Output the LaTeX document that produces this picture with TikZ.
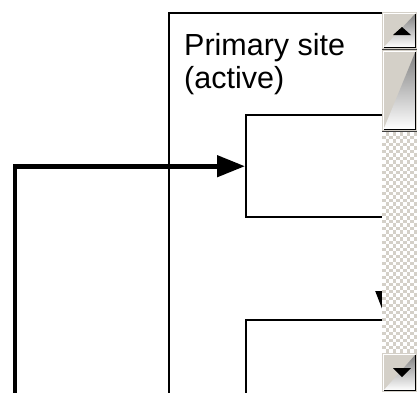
\documentclass[tikz,border=0pt]{standalone}
\usepackage{fontspec}
\setmainfont{Liberation Sans}
\usetikzlibrary{arrows.meta}
\definecolor{face}{HTML}{D4D0C8}
\definecolor{shade}{HTML}{808080}
\definecolor{darkedge}{HTML}{404040}
\begin{document}
\begin{tikzpicture}[x=1pt,y=-1pt,
  boxline/.style={draw=black, line width=2.4pt, rectangle, inner sep=0pt, anchor=north west},
  flow/.style={draw=black, line width=4.6pt, -{Triangle[length=28pt,width=21pt]}},
  flowthin/.style={draw=black, line width=2.4pt, -{Triangle[length=28pt,width=21pt]}},
  sitelabel/.style={anchor=north west, inner sep=0pt, align=left, font=\fontsize{30.5}{33}\selectfont},
  btnface/.style={fill=face},
  glyph/.style={fill=black}]
\useasboundingbox (0,0) rectangle (417,392);
\clip (0,0) rectangle (417,392);
\fill[white] (0,0) rectangle (417,392);
% diagram
\node[boxline, minimum width=320pt, minimum height=420pt] (site) at (168,12) {};
\node[sitelabel] (title) at (184,33) {Primary site\\(active)};
\node[boxline, minimum width=250pt, minimum height=102pt] (boxa) at (245,114) {};
\node[boxline, minimum width=250pt, minimum height=120pt] (boxb) at (245,319) {};
\coordinate (src) at (15,400);
\draw[flow] (src) |- (boxa.west);
\coordinate (ax) at (386,0);
\draw[flowthin] (boxa.south -| ax) -- (boxb.north -| ax);
% scrollbar
\fill[face] (382,12) rectangle (417,392);
% track checkers
\fill[face] (382,132) rectangle (417,353);
\foreach \i [evaluate=\i as \off using {mod(\i,2)*3.5}] in {0,...,62} {
  \foreach \j in {0,7,...,35} {
    \fill[white] (382+\j+\off,132+\i*3.5) rectangle ++(3.5,3.5);
  }
}
% up button
\fill[btnface] (382,12) rectangle (417,49);
\draw[white, line width=1pt] (383.5,48) -- (383.5,13.5) -- (416,13.5);
\draw[shade, line width=1pt] (383.5,47.5) -- (415.5,47.5) -- (415.5,13.5);
\draw[darkedge, line width=1pt] (382,49) -- (417,49);
\fill[glyph] (393,35) -- (402,27) -- (411,35) -- cycle;
% thumb
\fill[btnface] (382,50) rectangle (417,131);
\draw[white, line width=1pt] (383.5,130) -- (383.5,51.5) -- (416,51.5);
\draw[shade, line width=1pt] (383.5,129.5) -- (415.5,129.5) -- (415.5,51.5);
\draw[darkedge, line width=1pt] (382,131) -- (417,131);
% down button
\fill[btnface] (382,353) rectangle (417,392);
\draw[white, line width=1pt] (383.5,391) -- (383.5,354.5) -- (416,354.5);
\draw[shade, line width=1pt] (383.5,390.5) -- (415.5,390.5) -- (415.5,354.5);
\fill[glyph] (393,368) -- (411,368) -- (402,377) -- cycle;
\end{tikzpicture}
\end{document}
